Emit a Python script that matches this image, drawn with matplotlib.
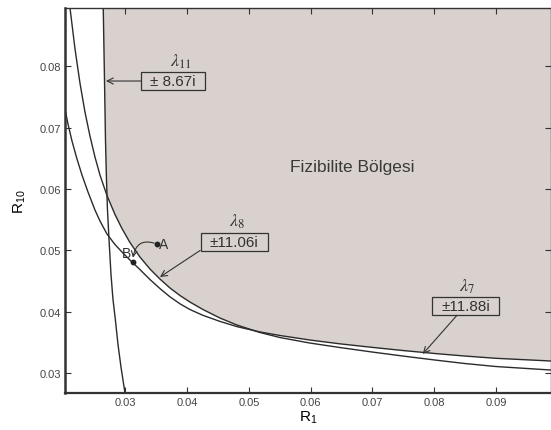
import matplotlib
matplotlib.use("Agg")
import matplotlib.pyplot as plt
import numpy as np
from matplotlib.path import Path

plt.rcParams.update({
    "font.family": ["Liberation Sans", "DejaVu Sans"],
    "mathtext.fontset": "stix",
    "font.size": 10,
    "xtick.direction": "in",
    "ytick.direction": "in",
    "xtick.color": "#333333",
    "ytick.color": "#333333",
    "xtick.labelcolor": "#444444",
    "ytick.labelcolor": "#444444",
    "text.color": "#333333",
})

# ── 曲线数据 ──
# λ11 : 近似竖直的边界
l11_x = [0.02642, 0.02662, 0.02678, 0.02694, 0.02710, 0.02735, 0.02767, 0.02799, 0.02837, 0.02880, 0.02929, 0.02994]
l11_y = [0.08954, 0.07796, 0.06817, 0.06165, 0.05675, 0.05186, 0.04615, 0.04207, 0.03881, 0.03473, 0.03098, 0.02674]

# λ8 左段 (λ11 左侧)
l8_left_x = [0.02104, 0.02185, 0.02265, 0.02346, 0.02427, 0.02508, 0.02589]
l8_left_y = [0.08954, 0.08286, 0.07731, 0.07258, 0.06866, 0.06524, 0.06230]
# λ7 左段
l7_left_x = [0.02023, 0.02071, 0.02136, 0.02217, 0.02298, 0.02395, 0.02508, 0.02589]
l7_left_y = [0.07307, 0.07062, 0.06785, 0.06491, 0.06230, 0.05953, 0.05659, 0.05480]

# 右段: 两条曲线在同一组 R1 取值上
grid_x = [0.02702, 0.02832, 0.02945, 0.03074, 0.03236, 0.03398, 0.03560, 0.03722, 0.03884, 0.04045,
          0.04256, 0.04531, 0.04806, 0.05178, 0.05502, 0.05987, 0.06473, 0.06990, 0.07492, 0.08010,
          0.08495, 0.08997, 0.09887]
l8_grid_y = [0.05896, 0.05586, 0.05357, 0.05129, 0.04892, 0.04697, 0.04533, 0.04387, 0.04264, 0.04158,
             0.04036, 0.03897, 0.03783, 0.03661, 0.03579, 0.03489, 0.03416, 0.03343, 0.03277, 0.03212,
             0.03155, 0.03106, 0.03049]
l7_grid_y = [0.05268, 0.05096, 0.04974, 0.04843, 0.04688, 0.04525, 0.04378, 0.04243, 0.04129, 0.04036,
             0.03941, 0.03842, 0.03757, 0.03670, 0.03612, 0.03538, 0.03476, 0.03419, 0.03367, 0.03318,
             0.03277, 0.03240, 0.03196]

pt_a = (0.03511, 0.05104)
pt_b = (0.03123, 0.04811)

x_ticks = [0.03, 0.04, 0.05, 0.06, 0.07, 0.08, 0.09]
y_ticks = [0.03, 0.04, 0.05, 0.06, 0.07, 0.08]
x_lim = (0.02023, 0.0989)
y_lim = (0.02674, 0.08954)

region_text = "Fizibilite Bölgesi"
boxes = [
    # (λ 标签, 框内文字, 框中心, 标签位置, 箭头终点, relpos)
    (r"$\lambda_{11}$", "± 8.67i", (0.03773, 0.07763), (0.0390, 0.0809), (0.02686, 0.07763), (0.0, 0.5)),
    (r"$\lambda_{8}$", "±11.06i", (0.04761, 0.05137), (0.04809, 0.05480), (0.03560, 0.04566), (0.0, 0.35)),
    (r"$\lambda_{7}$", "±11.88i", (0.08511, 0.04093), (0.08528, 0.04419), (0.07814, 0.03310), (0.36, 0.0)),
]

LINE = "#2b2b2b"
FILL = "#d8d1ce"


def wide_box(x0, y0, width, height, mutation_size):
    # 横向留白大, 纵向留白小的方框
    px, py = 0.6 * mutation_size, 0.12 * mutation_size
    x0, y0 = x0 - px, y0 - py
    x1, y1 = x0 + width + 2 * px, y0 + height + 2 * py
    return Path([(x0, y0), (x1, y0), (x1, y1), (x0, y1), (x0, y0)], closed=True)


fig = plt.figure(figsize=(5.51, 4.31), dpi=100)
ax = fig.add_axes([65 / 551, 1 - 394 / 431, (551 - 65) / 551, (394 - 9) / 431])

# 可行区域: λ11 右侧, 且在 λ8 / λ7 之上
upper = np.maximum(l8_grid_y, l7_grid_y)
top_part = [(x, y) for x, y in zip(l11_x, l11_y) if y > l8_grid_y[0]]
poly_x = [p[0] for p in top_part] + list(grid_x) + [x_lim[1], l11_x[0]]
poly_y = [p[1] for p in top_part] + list(upper) + [y_lim[1], y_lim[1]]
ax.fill(poly_x, poly_y, color=FILL, lw=0, zorder=0)

ax.plot(l11_x, l11_y, color=LINE, lw=1.0)
ax.plot(l8_left_x + grid_x, l8_left_y + l8_grid_y, color=LINE, lw=1.0)
ax.plot(l7_left_x + grid_x, l7_left_y + l7_grid_y, color=LINE, lw=1.0)

ax.text(0.06667, 0.06361, region_text, fontsize=12.5, color="#3a3a3a", ha="center", va="center")

for lam, txt, center, lpos, tip, rel in boxes:
    ax.text(*lpos, lam, fontsize=13, ha="center", va="center", color="#333333")
    ax.annotate(txt, xy=tip, xytext=center, fontsize=11, ha="center", va="center",
                color="#333333",
                bbox=dict(boxstyle=wide_box, fc="none", ec="#333333", lw=0.9),
                arrowprops=dict(arrowstyle="->", color="#333333", lw=0.8,
                                relpos=rel, shrinkA=0, shrinkB=0))

# A -> B
ax.plot(*pt_a, "o", color="#222222", ms=3.2)
ax.plot(*pt_b, "o", color="#222222", ms=3.2)
ax.text(pt_a[0] + 0.0003, pt_a[1], "A", fontsize=10, ha="left", va="center")
ax.text(pt_b[0] - 0.0011, pt_b[1] + 0.0015, "B", fontsize=10, ha="center", va="center")
ax.annotate("", xy=(pt_b[0], pt_b[1] + 0.0007), xytext=pt_a,
            arrowprops=dict(arrowstyle="->", color="#333333", lw=0.8,
                            connectionstyle="arc3,rad=0.6", shrinkA=2, shrinkB=0))

ax.set_xlim(*x_lim)
ax.set_ylim(*y_lim)
ax.set_xticks(x_ticks)
ax.set_yticks(y_ticks)
ax.set_xticklabels([f"{v:.2f}" for v in x_ticks])
ax.set_yticklabels([f"{v:.2f}" for v in y_ticks])
ax.tick_params(labelsize=8, length=4, width=0.8, top=True, right=True, pad=3)

for side, w in [("left", 1.8), ("bottom", 1.6), ("top", 1.0), ("right", 1.0)]:
    ax.spines[side].set_linewidth(w)
    ax.spines[side].set_color("#333333")

ax.set_xlabel(r"$\mathregular{R_1}$", fontsize=11, labelpad=1)
ax.set_ylabel(r"$\mathregular{R_{10}}$", fontsize=11, labelpad=8)

fig.savefig("out.png", dpi=100)
